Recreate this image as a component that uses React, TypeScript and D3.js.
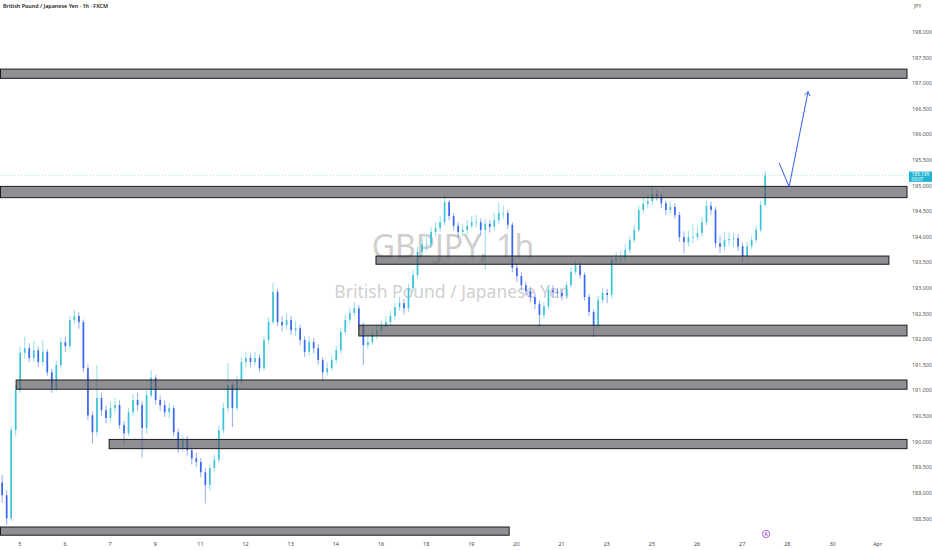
import { useEffect, useRef } from 'react';
import * as d3 from 'd3';

const symbolTitle = 'British Pound / Japanese Yen · 1h · FXCM';
const watermarkSymbol = 'GBPJPY, 1h';
const watermarkName = 'British Pound / Japanese Yen';
const currency = 'JPY';

const dayLabels = ['5', '6', '7', '9', '11', '12', '13', '14', '16', '18', '19', '20', '21', '23', '25', '26', '27', '28', '30', 'Apr'];
const priceTicks = [188.5, 189, 189.5, 190, 190.5, 191, 191.5, 192, 192.5, 193, 193.5, 194, 194.5, 195, 195.5, 196, 196.5, 197, 197.5, 198];

const barsPerDay = 10;
const firstBarDay = -0.38;
const firstOpen = 189.2;
const closes = [
  188.95, 188.5, 190.22, 191.0, 191.73, 191.82, 191.63, 191.78, 191.55, 191.75,
  191.35, 191.04, 191.49, 191.94, 191.86, 192.37, 192.45, 192.33, 191.43, 190.51,
  190.18, 190.85, 190.61, 190.46, 190.65, 190.71, 190.32, 190.16, 190.57, 190.81,
  190.71, 190.26, 190.9, 191.24, 190.81, 190.71, 190.57, 190.65, 190.18, 189.87,
  190.03, 189.83, 189.67, 189.6, 189.4, 189.15, 189.48, 189.64, 190.22, 190.65,
  191.1, 190.65, 191.2, 191.55, 191.63, 191.55, 191.63, 191.43, 191.98, 192.33,
  192.92, 192.33, 192.27, 192.37, 192.17, 192.21, 191.98, 191.75, 191.94, 191.82,
  191.59, 191.35, 191.43, 191.59, 191.78, 192.14, 192.37, 192.51, 192.6, 192.27,
  191.88, 191.94, 192.08, 192.17, 192.25, 192.33, 192.45, 192.62, 192.7, 192.6,
  192.99, 193.25, 193.7, 193.85, 193.85, 194.09, 194.17, 194.28, 194.67, 194.4,
  194.21, 194.09, 194.13, 194.21, 194.28, 194.28, 194.13, 194.25, 194.19, 194.32,
  194.46, 194.46, 194.23, 193.39, 193.23, 193.05, 192.94, 192.82, 192.68, 192.47,
  192.64, 192.96, 192.92, 192.9, 192.84, 193.05, 193.31, 193.44, 193.25, 192.82,
  192.53, 192.27, 192.76, 192.9, 192.86, 193.54, 193.58, 193.58, 193.74, 193.93,
  194.13, 194.52, 194.64, 194.69, 194.83, 194.79, 194.65, 194.52, 194.58, 194.42,
  193.99, 193.89, 193.99, 193.99, 194.07, 194.28, 194.6, 194.52, 193.87, 193.8,
  193.93, 193.95, 193.97, 193.81, 193.62, 193.81, 193.93, 194.13, 194.62, 195.195,
];
const highs = [
  189.35, 189.05, 190.3, 191.1, 191.85, 192.05, 191.92, 191.95, 191.85, 191.98,
  191.8, 191.42, 191.58, 192.02, 192.05, 192.45, 192.57, 192.52, 192.38, 191.5,
  190.58, 191.49, 190.95, 190.7, 190.78, 190.85, 190.8, 190.4, 190.65, 190.92,
  190.95, 190.78, 191.0, 191.39, 191.3, 190.9, 190.8, 190.75, 190.7, 190.25,
  190.12, 190.1, 189.9, 189.78, 189.68, 189.48, 189.55, 189.75, 190.3, 190.75,
  191.53, 191.15, 191.28, 191.65, 191.75, 191.72, 191.75, 191.7, 192.05, 192.42,
  193.09, 192.98, 192.45, 192.5, 192.45, 192.35, 192.28, 192.05, 192.05, 192.02,
  191.9, 191.65, 191.55, 191.68, 191.88, 192.22, 192.48, 192.62, 192.72, 192.66,
  192.32, 192.05, 192.18, 192.28, 192.36, 192.45, 192.56, 192.72, 192.82, 192.78,
  193.08, 193.35, 193.8, 193.98, 193.98, 194.18, 194.28, 194.4, 194.81, 194.72,
  194.46, 194.28, 194.25, 194.32, 194.4, 194.42, 194.35, 194.35, 194.32, 194.45,
  194.66, 194.6, 194.52, 194.28, 193.48, 193.3, 193.12, 193.02, 192.9, 192.75,
  192.72, 193.05, 193.05, 193.0, 192.98, 193.12, 193.4, 193.54, 193.5, 193.3,
  192.88, 192.58, 192.85, 193.0, 192.98, 193.62, 193.7, 193.72, 193.85, 194.02,
  194.22, 194.6, 194.75, 194.82, 194.97, 194.92, 194.85, 194.7, 194.68, 194.65,
  194.48, 194.1, 194.12, 194.25, 194.2, 194.38, 194.71, 194.68, 194.58, 194.02,
  194.1, 194.08, 194.08, 194.05, 193.88, 193.9, 194.02, 194.22, 194.7, 195.28,
];
const lows = [
  188.8, 188.37, 188.45, 190.1, 190.95, 191.62, 191.55, 191.55, 191.45, 191.48,
  191.28, 190.95, 190.98, 191.42, 191.75, 191.8, 192.28, 192.2, 191.35, 190.42,
  189.96, 190.1, 190.5, 190.35, 190.4, 190.55, 190.25, 189.96, 190.1, 190.5,
  190.6, 189.69, 190.15, 190.85, 190.72, 190.6, 190.48, 190.45, 190.1, 189.78,
  189.8, 189.72, 189.55, 189.5, 189.3, 188.79, 189.05, 189.4, 189.58, 190.15,
  190.58, 190.28, 190.6, 191.12, 191.45, 191.45, 191.48, 191.35, 191.38, 191.9,
  192.28, 192.25, 192.15, 192.18, 192.08, 192.05, 191.88, 191.65, 191.68, 191.72,
  191.5, 191.2, 191.28, 191.38, 191.52, 191.72, 192.08, 192.3, 192.45, 192.18,
  191.49, 191.8, 191.88, 192.0, 192.1, 192.18, 192.26, 192.38, 192.55, 192.48,
  192.52, 192.92, 193.18, 193.62, 193.72, 193.78, 194.0, 194.1, 194.22, 194.32,
  194.12, 193.98, 194.0, 194.05, 194.15, 194.18, 194.02, 193.35, 194.08, 194.12,
  194.25, 194.35, 194.15, 193.3, 193.12, 192.95, 192.85, 192.72, 192.58, 192.23,
  192.4, 192.58, 192.82, 192.8, 192.75, 192.78, 193.0, 193.25, 193.18, 192.75,
  192.45, 192.04, 192.2, 192.7, 192.7, 192.8, 193.45, 193.48, 193.5, 193.68,
  193.88, 194.08, 194.45, 194.55, 194.62, 194.7, 194.55, 194.42, 194.45, 194.35,
  193.9, 193.68, 193.8, 193.88, 193.92, 194.0, 194.22, 194.42, 193.78, 193.68,
  193.72, 193.82, 193.8, 193.72, 193.5, 193.55, 193.75, 193.88, 194.08, 194.58,
];

// support / resistance boxes; null means the box runs to the chart edge
const zoneTops = [197.27, 194.98, 193.62, 192.27, 191.2, 190.04, 188.33];
const zoneBottoms = [197.09, 194.76, 193.46, 192.06, 191.02, 189.86, 188.17];
const zoneStartDays: (number | null)[] = [null, null, 7.9, 7.52, -0.07, 1.99, null];
const zoneEndDays: (number | null)[] = [null, null, 19.26, null, null, null, 10.85];

const lastPrice = 195.195;
const countdown = '00:07';
const arrowDays = [16.83, 17.05, 17.47];
const arrowPrices = [195.44, 194.97, 196.83];
const eventDay = 16.54;

const W = 932;
const H = 550;
const plotRight = 907;
const font = '"Noto Sans", "Open Sans", sans-serif';
const upColor = '#3cc3d8';
const downColor = '#3a67ee';

export default function App() {
  const svgRef = useRef<SVGSVGElement>(null);

  useEffect(() => {
    if (!svgRef.current) return;
    const svg = d3.select(svgRef.current);
    svg.selectAll('*').remove();

    const x = d3.scaleLinear().domain([0, 19]).range([19.3, 877.15]);
    const y = d3.scaleLinear().domain([188.5, 198]).range([518.3, 31.7]);

    svg.append('rect').attr('width', W).attr('height', H).attr('fill', '#fff');

    // watermark
    svg.append('text')
      .attr('x', 453).attr('y', 258)
      .attr('text-anchor', 'middle')
      .attr('font-family', font).attr('font-size', 32)
      .attr('fill', '#cfcfcf')
      .text(watermarkSymbol);
    svg.append('text')
      .attr('x', 452).attr('y', 298)
      .attr('text-anchor', 'middle')
      .attr('font-family', font).attr('font-size', 17.5)
      .attr('fill', '#d0d0d0')
      .text(watermarkName);

    // last price line
    svg.append('line')
      .attr('x1', 0).attr('x2', plotRight)
      .attr('y1', y(lastPrice)).attr('y2', y(lastPrice))
      .attr('stroke', '#9fdbe8').attr('stroke-width', 0.8)
      .attr('stroke-dasharray', '1,2');

    const bars = closes.map((c, i) => ({
      day: firstBarDay + i / barsPerDay,
      open: i === 0 ? firstOpen : closes[i - 1],
      close: c,
      high: highs[i],
      low: lows[i],
    }));

    const candles = svg.append('g');
    candles.selectAll('line')
      .data(bars)
      .join('line')
      .attr('x1', d => x(d.day)).attr('x2', d => x(d.day))
      .attr('y1', d => y(d.high)).attr('y2', d => y(d.low))
      .attr('stroke', d => (d.close >= d.open ? upColor : downColor))
      .attr('stroke-width', 0.9)
      .attr('opacity', 0.6);
    candles.selectAll('rect')
      .data(bars)
      .join('rect')
      .attr('x', d => x(d.day) - 0.85)
      .attr('width', 1.7)
      .attr('y', d => y(Math.max(d.open, d.close)))
      .attr('height', d => Math.max(0.8, Math.abs(y(d.open) - y(d.close))))
      .attr('fill', d => (d.close >= d.open ? upColor : downColor));

    // zones
    svg.append('g')
      .selectAll('rect')
      .data(zoneTops.map((t, i) => i))
      .join('rect')
      .attr('x', i => (zoneStartDays[i] == null ? 0.5 : x(zoneStartDays[i] as number)))
      .attr('width', i => {
        const x0 = zoneStartDays[i] == null ? 0.5 : x(zoneStartDays[i] as number);
        const x1 = zoneEndDays[i] == null ? plotRight : x(zoneEndDays[i] as number);
        return x1 - x0;
      })
      .attr('y', i => y(zoneTops[i]))
      .attr('height', i => y(zoneBottoms[i]) - y(zoneTops[i]))
      .attr('fill', 'rgba(85,85,92,0.66)')
      .attr('stroke', '#1c1c1c')
      .attr('stroke-width', 1);

    // forecast arrow
    const pts = arrowDays.map((d, i) => [x(d), y(arrowPrices[i])] as [number, number]);
    svg.append('path')
      .attr('d', d3.line()(pts))
      .attr('fill', 'none')
      .attr('stroke', '#2f5fe8')
      .attr('stroke-width', 1);
    const [pa, pb] = [pts[1], pts[2]];
    const ang = Math.atan2(pb[1] - pa[1], pb[0] - pa[0]);
    const head = 5;
    const hp: [number, number][] = [
      [pb[0] - head * Math.cos(ang - 0.6), pb[1] - head * Math.sin(ang - 0.6)],
      pb,
      [pb[0] - head * Math.cos(ang + 0.6), pb[1] - head * Math.sin(ang + 0.6)],
    ];
    svg.append('path')
      .attr('d', d3.line()(hp))
      .attr('fill', 'none')
      .attr('stroke', '#2f5fe8')
      .attr('stroke-width', 1);

    // price axis
    const yAxis = svg.append('g')
      .attr('transform', `translate(910,0)`)
      .call(d3.axisRight(y).tickValues(priceTicks).tickFormat(d3.format('.3f')).tickSize(0).tickPadding(2));
    yAxis.select('.domain').remove();
    yAxis.selectAll('text')
      .attr('font-family', font).attr('font-size', 5.4).attr('fill', '#555');

    // time axis
    const xAxis = svg.append('g')
      .attr('transform', `translate(0,539)`)
      .call(d3.axisBottom(x).tickValues(d3.range(dayLabels.length)).tickFormat(i => dayLabels[i as number]).tickSize(0).tickPadding(3));
    xAxis.select('.domain').remove();
    xAxis.selectAll('text')
      .attr('font-family', font).attr('font-size', 5.4).attr('fill', '#444');

    // last price label
    const ly = y(lastPrice);
    svg.append('rect')
      .attr('x', 909).attr('y', ly - 3.8)
      .attr('width', 23).attr('height', 10.3)
      .attr('fill', '#22b5d3');
    svg.append('text')
      .attr('x', 911.5).attr('y', ly + 0.9)
      .attr('font-family', font).attr('font-size', 4.8)
      .attr('fill', '#fff').text(d3.format('.3f')(lastPrice));
    svg.append('text')
      .attr('x', 911.5).attr('y', ly + 5.3)
      .attr('font-family', font).attr('font-size', 4.6)
      .attr('fill', '#fff').text(countdown);

    // event marker
    const ex = x(eventDay);
    svg.append('circle')
      .attr('cx', ex).attr('cy', 534).attr('r', 3.6)
      .attr('fill', '#fff').attr('stroke', '#a64fc9').attr('stroke-width', 0.9);
    svg.append('text')
      .attr('x', ex).attr('y', 535.8)
      .attr('text-anchor', 'middle')
      .attr('font-family', font).attr('font-size', 4.5).attr('font-weight', 700)
      .attr('fill', '#a64fc9').text('A');

    // header
    svg.append('text')
      .attr('x', 3).attr('y', 8)
      .attr('font-family', font).attr('font-size', 5.4).attr('font-weight', 600)
      .attr('fill', '#222').text(symbolTitle);
    svg.append('text')
      .attr('x', 914).attr('y', 8)
      .attr('font-family', font).attr('font-size', 5).attr('fill', '#555')
      .text(currency);
  }, []);

  return (
    <div style={{ position: 'absolute', left: 0, top: 0, width: W, height: H }}>
      <svg ref={svgRef} width={W} height={H} style={{ display: 'block' }} />
    </div>
  );
}
